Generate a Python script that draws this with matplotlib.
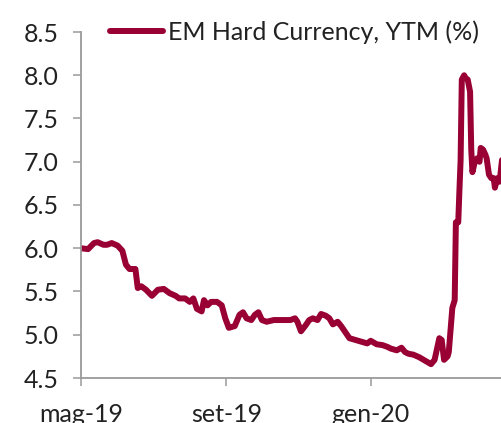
import numpy as np
import pandas as pd
import matplotlib
matplotlib.use("Agg")
import matplotlib.pyplot as plt

plt.rcParams['font.family'] = ['Lato', 'DejaVu Sans']

# ---------- data ----------
DATES = [
    "2019-05-01", "2019-05-07", "2019-05-12", "2019-05-15", "2019-05-20", "2019-05-23",
    "2019-05-27", "2019-06-01", "2019-06-05", "2019-06-08", "2019-06-11", "2019-06-16",
    "2019-06-18", "2019-06-21", "2019-06-25", "2019-06-30", "2019-07-05", "2019-07-10",
    "2019-07-15", "2019-07-20", "2019-07-23", "2019-07-28", "2019-08-01", "2019-08-04",
    "2019-08-07", "2019-08-11", "2019-08-13", "2019-08-16", "2019-08-19", "2019-08-24",
    "2019-08-28", "2019-08-31", "2019-09-03", "2019-09-08", "2019-09-12", "2019-09-15",
    "2019-09-18", "2019-09-22", "2019-09-25", "2019-09-28", "2019-10-01", "2019-10-05",
    "2019-10-11", "2019-10-17", "2019-10-22", "2019-10-25", "2019-10-29", "2019-10-31",
    "2019-11-03", "2019-11-07", "2019-11-10", "2019-11-13", "2019-11-17", "2019-11-20",
    "2019-11-24", "2019-11-27", "2019-11-30", "2019-12-04", "2019-12-07", "2019-12-10",
    "2019-12-14", "2019-12-19", "2019-12-24", "2019-12-29", "2020-01-01", "2020-01-06",
    "2020-01-11", "2020-01-15", "2020-01-18", "2020-01-23", "2020-01-27", "2020-01-30",
    "2020-02-02", "2020-02-06", "2020-02-11", "2020-02-16", "2020-02-21", "2020-02-24",
    "2020-02-28", "2020-03-01", "2020-03-03", "2020-03-06", "2020-03-07", "2020-03-10",
    "2020-03-12", "2020-03-13", "2020-03-15", "2020-03-16", "2020-03-17", "2020-03-18",
    "2020-03-20", "2020-03-21", "2020-03-23", "2020-03-25", "2020-03-26", "2020-03-27",
    "2020-03-29", "2020-03-31", "2020-04-02", "2020-04-03", "2020-04-05", "2020-04-07",
    "2020-04-08", "2020-04-10", "2020-04-12", "2020-04-14", "2020-04-15", "2020-04-17",
    "2020-04-19", "2020-04-21",
]
YTM = [
    6.00, 5.99, 6.06, 6.07, 6.04, 6.04,
    6.06, 6.03, 5.97, 5.81, 5.76, 5.76,
    5.54, 5.56, 5.52, 5.45, 5.52, 5.53,
    5.48, 5.45, 5.42, 5.42, 5.38, 5.42,
    5.30, 5.27, 5.40, 5.34, 5.38, 5.38,
    5.34, 5.19, 5.08, 5.10, 5.23, 5.26,
    5.19, 5.17, 5.23, 5.26, 5.17, 5.15,
    5.17, 5.17, 5.17, 5.17, 5.19, 5.15,
    5.04, 5.11, 5.17, 5.19, 5.17, 5.24,
    5.22, 5.19, 5.12, 5.15, 5.10, 5.04,
    4.96, 4.94, 4.92, 4.90, 4.93, 4.89,
    4.88, 4.86, 4.84, 4.82, 4.85, 4.80,
    4.78, 4.77, 4.74, 4.70, 4.66, 4.71,
    4.96, 4.94, 4.71, 4.75, 4.80, 5.31,
    5.40, 6.30, 6.30, 6.67, 7.02, 7.95,
    8.00, 7.97, 7.95, 7.81, 7.14, 6.88,
    7.00, 7.04, 7.00, 7.16, 7.14, 7.08,
    7.04, 6.85, 6.81, 6.81, 6.70, 6.81,
    6.77, 7.02,
]
SERIES_LABEL = "EM Hard Currency, YTM (%)"
TICK_DATES = ["2019-05-01", "2019-09-01", "2020-01-01"]
TICK_LABELS = ["mag-19", "set-19", "gen-20"]
Y_TICKS = [4.5, 5.0, 5.5, 6.0, 6.5, 7.0, 7.5, 8.0, 8.5]

LINE_COLOR = "#990033"
SPINE_COLOR = "#9a9a9a"
TEXT_COLOR = "#222222"


def main():
    dates = pd.to_datetime(DATES)

    fig = plt.figure(figsize=(5.02, 4.23), dpi=100)
    ax = fig.add_axes([81 / 502, 45 / 423, 1 - 81 / 502, 346 / 423])

    ax.plot(dates, YTM, color=LINE_COLOR, lw=4.3, solid_joinstyle='round',
            solid_capstyle='round', label=SERIES_LABEL)

    ax.set_xlim(pd.Timestamp("2019-05-01"), pd.Timestamp("2020-04-21"))
    ax.set_ylim(4.5, 8.5)
    ax.set_yticks(Y_TICKS)
    ax.set_yticklabels([f"{v:.1f}" for v in Y_TICKS])
    ax.set_xticks(pd.to_datetime(TICK_DATES))
    ax.set_xticklabels(TICK_LABELS)

    for side in ("top", "right"):
        ax.spines[side].set_visible(False)
    for side in ("left", "bottom"):
        ax.spines[side].set_color(SPINE_COLOR)
        ax.spines[side].set_linewidth(1.3)

    ax.tick_params(axis='both', direction='out', length=6, width=1.1,
                   color=SPINE_COLOR, labelsize=18, labelcolor=TEXT_COLOR)
    ax.tick_params(axis='y', pad=10)
    ax.tick_params(axis='x', pad=12)

    # legend sits at the top, aligned with the 8.5 level
    leg = ax.legend(loc='center left', bbox_to_anchor=(110 / 502, 1 - 32 / 423),
                    bbox_transform=fig.transFigure, frameon=False, fontsize=18,
                    handlelength=2.1, handletextpad=0.2, borderpad=0, borderaxespad=0)
    for t in leg.get_texts():
        t.set_color(TEXT_COLOR)

    fig.savefig("out.png", dpi=100)


if __name__ == "__main__":
    main()
